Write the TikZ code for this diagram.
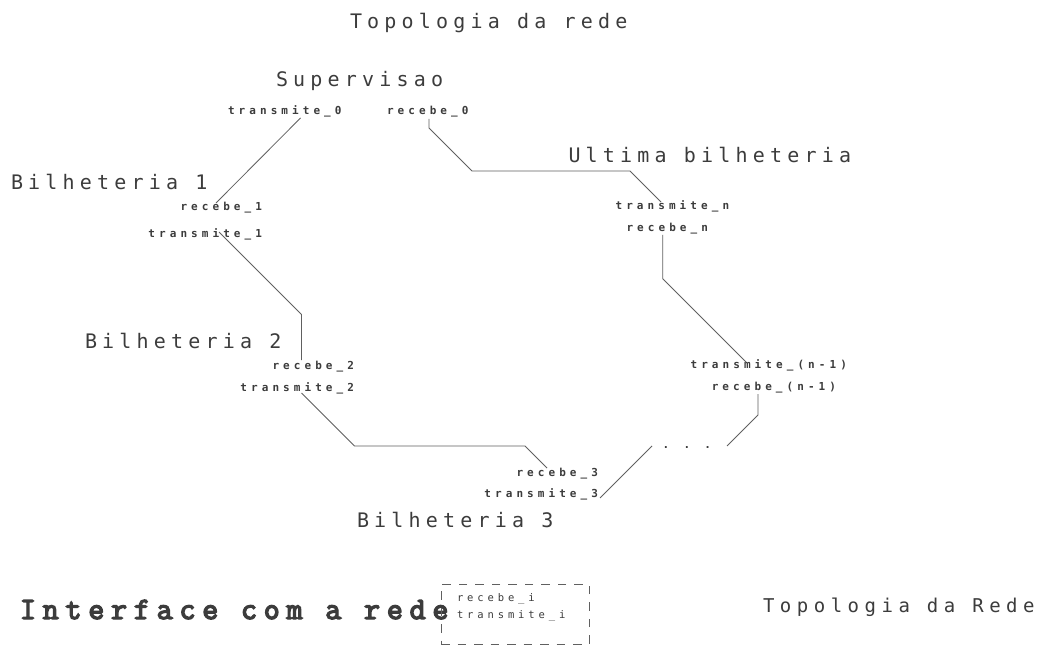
\documentclass[tikz,border=0pt]{standalone}
\usepackage{fontspec}
\newfontfamily\bigf[LetterSpace=26]{DejaVu Sans Mono}
\newfontfamily\botf[LetterSpace=29]{DejaVu Sans Mono}
\newfontfamily\smallf[LetterSpace=37]{DejaVu Sans Mono}
\newfontfamily\ifacef[LetterSpace=22,FakeBold=4.5]{Latin Modern Mono}
\definecolor{ink}{HTML}{3C3C3C}
\definecolor{wire}{HTML}{606060}
\begin{document}
\begin{tikzpicture}[x=1pt,y=-1pt,
  every node/.style={inner sep=0pt,outer sep=0pt,text=ink},
  big/.style={font=\bigf\fontsize{20}{20}\selectfont},
  bot/.style={font=\botf\fontsize{19}{19}\selectfont},
  lbl/.style={font=\smallf\bfseries\fontsize{11}{11}\selectfont},
  lbli/.style={font=\smallf\fontsize{10.5}{10.5}\selectfont},
  iface/.style={font=\ifacef\fontsize{31}{31}\selectfont},
  link/.style={draw=wire,line width=0.8pt},
  ibox/.style={draw=wire,line width=0.8pt,dash pattern=on 8.5pt off 8pt}]
\useasboundingbox[fill=white] (0,0) rectangle (1055,647);
% big labels
\node[big,anchor=base west] (title) at (350,29) {Topologia da rede};
\node[big,anchor=base west] (sup) at (276,87) {Supervisao};
\node[big,anchor=base west] (b1) at (11,190) {Bilheteria 1};
\node[big,anchor=base west] (ult) at (568.5,163) {Ultima bilheteria};
\node[big,anchor=base west] (b2) at (85,348) {Bilheteria 2};
\node[big,anchor=base west] (b3) at (357,527) {Bilheteria 3};
\node[bot,anchor=base west] (topo) at (763,612) {Topologia da Rede};
\node[iface,anchor=base west] (ifc) at (20,619) {Interface com a rede};
% small labels
\node[lbl,anchor=base west] (t0) at (228,115) {transmite\_0};
\node[lbl,anchor=base west] (r0) at (387,115) {recebe\_0};
\node[lbl,anchor=base east] (r1) at (262,211) {recebe\_1};
\node[lbl,anchor=base east] (t1) at (262,237) {transmite\_1};
\node[lbl,anchor=base east] (r2) at (354,369) {recebe\_2};
\node[lbl,anchor=base east] (t2) at (354,391) {transmite\_2};
\node[lbl,anchor=base east] (r3) at (598,476) {recebe\_3};
\node[lbl,anchor=base east] (t3) at (598,497) {transmite\_3};
\node[lbl,anchor=base west] (tn) at (615.6,210) {transmite\_n};
\node[lbl,anchor=base west] (rn) at (626.5,232) {recebe\_n};
\node[lbl,anchor=base west] (tn1) at (690.6,368) {transmite\_(n-1)};
\node[lbl,anchor=base west] (rn1) at (711.8,390) {recebe\_(n-1)};
\node[lbl,anchor=base west] (dots) at (662.7,448) {. . .};
% interface box
\node[ibox,anchor=north west,minimum width=148pt,minimum height=60pt] (box) at (441,584) {};
\node[lbli,anchor=base west] (ri) at (457,601) {recebe\_i};
\node[lbli,anchor=base west] (ti) at (457,618) {transmite\_i};
% connectors
\draw[link] ([shift={(72.5,3)}]t0.base west) -- ([shift={(-46,-8)}]r1.base east);
\draw[link] ([shift={(-43,-5)}]t1.base east) -- ++(82.5,82.5) -- ([shift={(-52.5,-9)}]r2.base east);
\draw[link] ([shift={(-52.5,2)}]t2.base east) -- ++(53,53) -- ++(170.5,0) -- ([shift={(-51,-8)}]r3.base east);
\draw[link] ([shift={(2,1)}]t3.base east) -- ([shift={(-10.7,-2)}]dots.base west);
\draw[link] ([shift={(64.3,-2)}]dots.base west) -- ++(31,-31) -- ([shift={(46.2,4)}]rn1.base west);
\draw[link] ([shift={(55.4,-6)}]tn1.base west) -- ++(-83.3,-83.3) -- ([shift={(36.2,3)}]rn.base west);
\draw[link] ([shift={(45.4,-8)}]tn.base west) -- ++(-31,-31) -- ++(-158,0) -- ++(-43,-43) -- ([shift={(42,4)}]r0.base west);
\end{tikzpicture}
\end{document}
